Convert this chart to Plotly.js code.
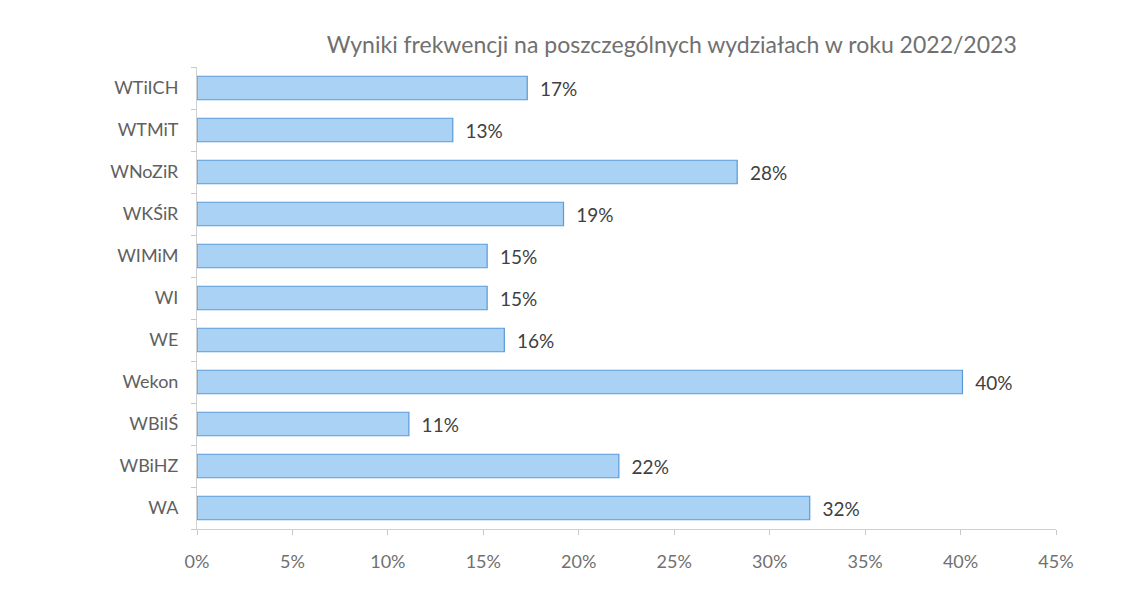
<!DOCTYPE html>
<html>
<head>
<meta charset="utf-8">
<script src="https://cdn.plot.ly/plotly-3.0.1.min.js"></script>
<style>html,body{margin:0;padding:0;background:#fff;}#chart{width:1129px;height:595px;}</style>
</head>
<body>
<div id="chart"></div>
<script>
const categories = ["WTiICH","WTMiT","WNoZiR","WKŚiR","WIMiM","WI","WE","Wekon","WBiIŚ","WBiHZ","WA"];
const values = [17.3, 13.4, 28.3, 19.2, 15.2, 15.2, 16.1, 40.1, 11.1, 22.1, 32.1];
const labels = ["17%","13%","28%","19%","15%","15%","16%","40%","11%","22%","32%"];
const xTickVals = [0,5,10,15,20,25,30,35,40,45];
const xTickText = ["0%","5%","10%","15%","20%","25%","30%","35%","40%","45%"];

const pad = "\u00A0\u00A0";
const trace = {
  type: "bar",
  orientation: "h",
  x: values,
  y: categories,
  text: labels.map(l => pad + l),
  textposition: "outside",
  cliponaxis: false,
  textfont: {family: "Lato, 'Open Sans', sans-serif", size: 19, color: "#404040"},
  marker: {color: "#A9D2F5", line: {color: "#5A9AD8", width: 1.2}},
  hoverinfo: "none"
};

const layout = {
  width: 1129, height: 595,
  paper_bgcolor: "#fff", plot_bgcolor: "#fff",
  margin: {l: 197, r: 73, t: 67, b: 66},
  bargap: 0.44,
  showlegend: false,
  title: {
    text: "Wyniki frekwencji na poszczególnych wydziałach w roku 2022/2023",
    font: {family: "Lato, 'Open Sans', sans-serif", size: 23, color: "#707070"},
    x: 0.595, xanchor: "center", y: 0.925, yanchor: "middle"
  },
  xaxis: {
    range: [0, 45],
    tickvals: xTickVals, ticktext: xTickText,
    showgrid: false, zeroline: false,
    showline: true, linecolor: "#d0d0d0", linewidth: 1,
    ticks: "outside", ticklen: 5, tickcolor: "#c8c8c8",
    ticklabelstandoff: 11,
    tickfont: {family: "Lato, 'Open Sans', sans-serif", size: 18, color: "#707070"}
  },
  yaxis: {
    categoryorder: "array",
    categoryarray: categories.slice().reverse(),
    showgrid: false, zeroline: false,
    showline: true, linecolor: "#d0d0d0", linewidth: 1,
    ticks: "outside", ticklen: 5, tickcolor: "#c8c8c8", tickson: "boundaries",
    ticklabelstandoff: 14,
    tickfont: {family: "Lato, 'Open Sans', sans-serif", size: 18, color: "#606060"}
  }
};

Plotly.newPlot("chart", [trace], layout, {displayModeBar: false, staticPlot: true});
</script>
</body>
</html>
